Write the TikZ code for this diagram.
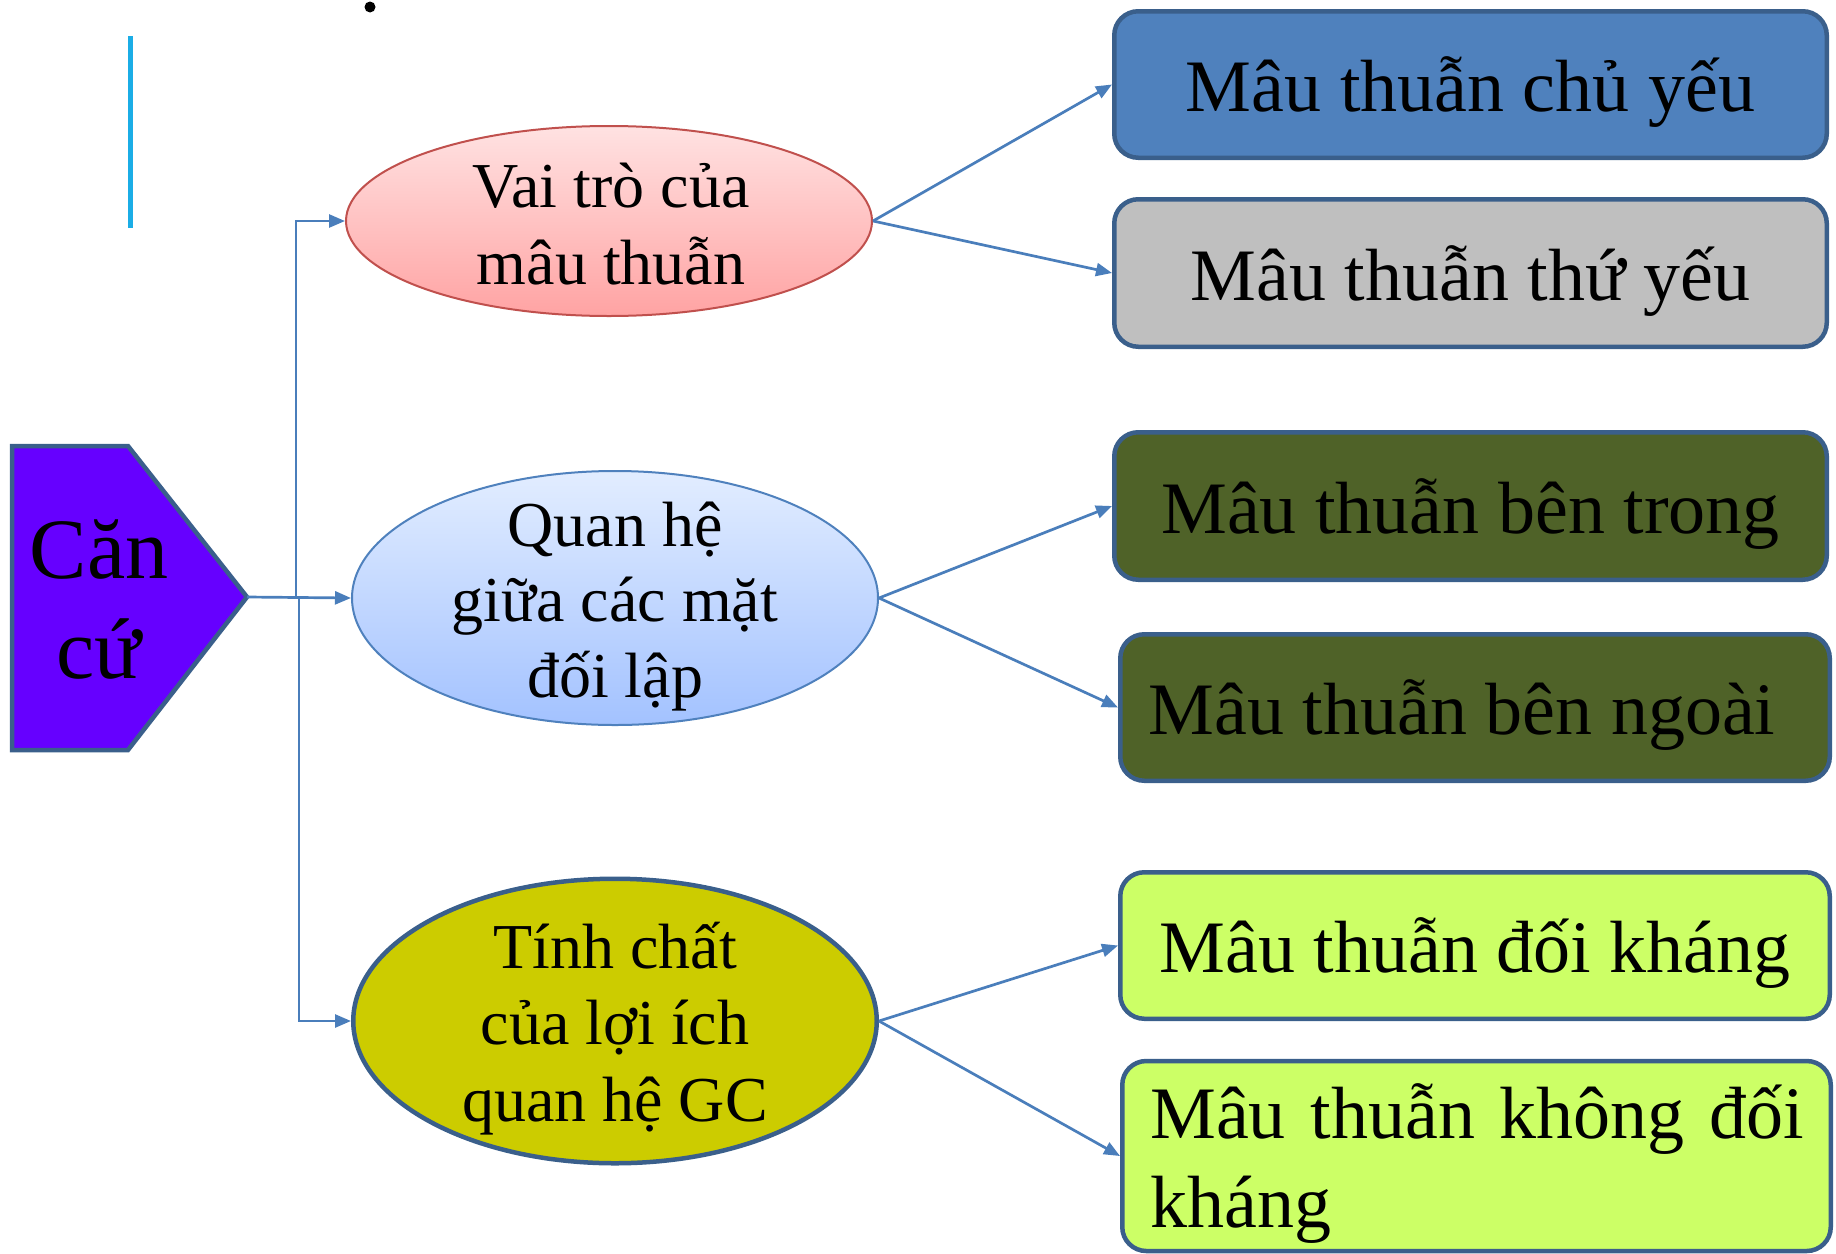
\documentclass[tikz,border=0pt]{standalone}
\usepackage{fontspec}
\setmainfont{Liberation Serif}
\usetikzlibrary{shapes.geometric,arrows.meta}
\definecolor{cPent}{HTML}{6600FF}
\definecolor{cEdge}{HTML}{3A5F8B}
\definecolor{cConn}{HTML}{4A7EBB}
\definecolor{cBar}{HTML}{1BADE6}
\definecolor{cBa}{HTML}{4F81BD}
\definecolor{cBb}{HTML}{BFBFBF}
\definecolor{cBc}{HTML}{4F6228}
\definecolor{cBe}{HTML}{CCFF66}
\definecolor{cEc}{HTML}{CCCC00}
\definecolor{cEat}{HTML}{FFE2E2}
\definecolor{cEab}{HTML}{FFA3A3}
\definecolor{cEad}{HTML}{C0504D}
\definecolor{cEbt}{HTML}{E2EDFF}
\definecolor{cEbb}{HTML}{A3C2FF}
\definecolor{cEbd}{HTML}{4F81BD}
\begin{document}
\begin{tikzpicture}[x=1pt,y=-1pt,
  mbox/.style={draw=cEdge, line width=4.5pt, rounded corners=24pt, inner sep=0pt,
    text height=60pt, text depth=6pt, text=black,
    font=\fontsize{74pt}{86pt}\selectfont},
  ell/.style={ellipse, inner sep=0pt},
  etxt/.style={anchor=base, inner sep=0pt, font=\fontsize{64pt}{76pt}\selectfont},
  btxt/.style={anchor=base west, inner sep=0pt, font=\fontsize{74pt}{86pt}\selectfont},
  conn/.style={draw=cConn, line width=2.7pt, -{Triangle[length=16pt,width=13pt]}}]
\useasboundingbox (0,0) rectangle (1836,1253);

% decorative marks
\fill (370,7) circle (5.5);
\draw[cBar, line width=5pt] (130.5,36) -- (130.5,228);

% pentagon "Căn cứ"
\draw[fill=cPent, draw=cEdge, line width=4.5pt, line join=miter]
  (12,446) -- (128,446) -- (247,597) -- (128,750) -- (12,750) -- cycle;
\coordinate (tip) at (247,597);
\node[anchor=base, inner sep=0pt, font=\fontsize{86pt}{100pt}\selectfont] (cana) at (99,578) {Căn};
\node[anchor=base, inner sep=0pt, font=\fontsize{86pt}{100pt}\selectfont] (canb) at (99,678) {cứ};

% ellipses
\node[ell, minimum width=526pt, minimum height=190pt, top color=cEat, bottom color=cEab,
  draw=cEad, line width=2pt] (e1) at (609,221) {};
\node[etxt] (e1a) at (611,207) {Vai trò của};
\node[etxt] (e1b) at (611,284) {mâu thuẫn};

\node[ell, minimum width=526pt, minimum height=254pt, top color=cEbt, bottom color=cEbb,
  draw=cEbd, line width=2pt] (e2) at (615,598) {};
\node[etxt] (e2a) at (615,546) {Quan hệ};
\node[etxt] (e2b) at (615,621) {giữa các mặt};
\node[etxt] (e2c) at (615,697) {đối lập};

\node[ell, minimum width=523.5pt, minimum height=284.5pt, fill=cEc,
  draw=cEdge, line width=4.5pt] (e3) at (615,1021) {};
\node[etxt] (e3a) at (615,968) {Tính chất};
\node[etxt] (e3b) at (615,1044) {của lợi ích};
\node[etxt] (e3c) at (615,1121) {quan hệ GC};

% boxes
\node[mbox, fill=cBa, minimum width=712.5pt, minimum height=146.5pt] (b1) at (1470.5,84.5) {Mâu thuẫn chủ yếu};
\node[mbox, fill=cBb, minimum width=712.5pt, minimum height=147.5pt] (b2) at (1470.5,273) {Mâu thuẫn thứ yếu};
\node[mbox, fill=cBc, minimum width=712.5pt, minimum height=147.5pt] (b3) at (1470.5,506) {Mâu thuẫn bên trong};
\node[mbox, fill=cBc, minimum width=709.5pt, minimum height=146.5pt] (b4) at (1475,707.5) {\hspace*{-26pt}Mâu thuẫn bên ngoài};
\node[mbox, fill=cBe, minimum width=709.5pt, minimum height=146.5pt] (b5) at (1475,945.5) {Mâu thuẫn đối kháng};
\node[mbox, fill=cBe, minimum width=708.5pt, minimum height=190pt] (b6) at (1476.5,1156) {};
\node[btxt] (b6a) at (1150,1138) {\makebox[654pt][s]{Mâu thuẫn không đối}};
\node[btxt] (b6b) at (1150,1227) {kháng};

% connectors from pentagon
\coordinate (ja) at (296,597);
\coordinate (jb) at (299,597);
\draw[conn] (tip) -- (ja) |- (e1.west);
\draw[conn] (tip) -- (e2.west);
\draw[conn] (tip) -- (jb) |- (e3.west);

% connectors from ellipses
\draw[conn] (e1.east) -- (b1.west);
\draw[conn] (e1.east) -- (b2.west);
\draw[conn] (e2.east) -- (b3.west);
\draw[conn] (e2.east) -- (b4.west);
\draw[conn] (e3.east) -- (b5.west);
\draw[conn] (e3.east) -- (b6.west);
\end{tikzpicture}
\end{document}
